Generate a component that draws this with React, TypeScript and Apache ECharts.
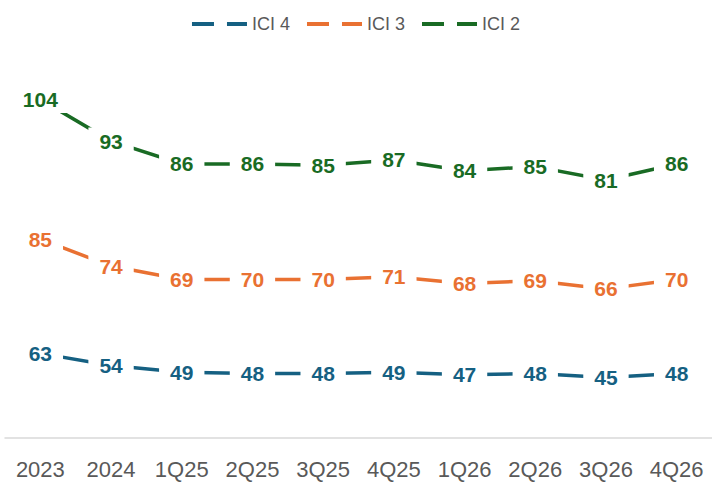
import React, { useEffect, useRef } from "react";
import * as echarts from "echarts";

const categories = ["2023", "2024", "1Q25", "2Q25", "3Q25", "4Q25", "1Q26", "2Q26", "3Q26", "4Q26"];
const ici4 = [63, 54, 49, 48, 48, 49, 47, 48, 45, 48];
const ici3 = [85, 74, 69, 70, 70, 71, 68, 69, 66, 70];
const ici2 = [104, 93, 86, 86, 85, 87, 84, 85, 81, 86];
const seriesNames = ["ICI 4", "ICI 3", "ICI 2"];
const seriesColors = ["#156082", "#E97132", "#196B24"];

const FONT = "'Liberation Sans', Arial, sans-serif";
const dashIcon = "path://M0,0H22V4H0Z M35,0H55V4H35Z";

export default function App() {
  const ref = useRef<HTMLDivElement>(null);
  useEffect(() => {
    if (!ref.current) return;
    const chart = echarts.init(ref.current, null, { renderer: "svg" });
    const values = [ici4, ici3, ici2];
    chart.setOption({
      animation: false,
      backgroundColor: "#ffffff",
      legend: {
        top: 10,
        left: "center",
        itemWidth: 55,
        itemHeight: 4,
        itemGap: 17,
        textStyle: { fontFamily: FONT, fontSize: 18, color: "#595959" },
        data: seriesNames.map((n, i) => ({ name: n, icon: dashIcon, itemStyle: { color: seriesColors[i] } })),
      },
      grid: { left: 5, right: -2, top: 35, bottom: 47, containLabel: false },
      xAxis: {
        type: "category",
        data: categories,
        boundaryGap: true,
        axisLine: { show: true, lineStyle: { color: "#d9d9d9", width: 1.5 } },
        axisTick: { show: false },
        axisLabel: { fontFamily: FONT, fontSize: 22, color: "#595959", margin: 20 },
        splitLine: { show: false },
      },
      yAxis: {
        type: "value",
        min: 0,
        max: 300,
        show: false,
        splitLine: { show: false },
      },
      series: seriesNames.map((n, i) => ({
        name: n,
        type: "line",
        stack: "total",
        data: values[i],
        symbol: "circle",
        symbolSize: 1,
        showSymbol: true,
        itemStyle: { color: seriesColors[i] },
        lineStyle: { color: seriesColors[i], width: 3.5 },
        label: {
          show: true,
          position: "inside",
          fontFamily: FONT,
          fontSize: 21,
          fontWeight: "bold",
          color: seriesColors[i],
          backgroundColor: "#ffffff",
          padding: [3, 11],
        },
      })),
    });
    return () => chart.dispose();
  }, []);
  return (
    <div
      ref={ref}
      style={{ position: "fixed", left: 0, top: 0, width: 712, height: 485 }}
    />
  );
}
